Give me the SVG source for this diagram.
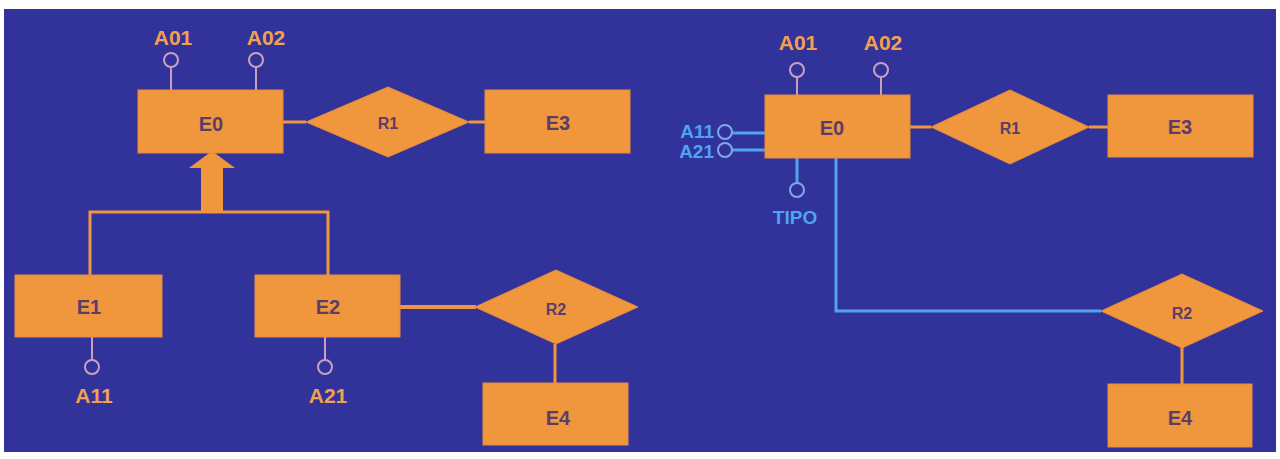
<svg xmlns="http://www.w3.org/2000/svg" width="1280" height="459" viewBox="0 0 1280 459">
<style>
.ent{fill:#f0963c;stroke:#e98a3a;stroke-width:1}
.rel{fill:#f0963c;stroke:#e98a3a;stroke-width:1}
.nt{font-family:"Liberation Sans",Arial,sans-serif;font-weight:bold;font-size:20px;fill:#5a3d6a;text-anchor:middle;dominant-baseline:central}
.rt{font-family:"Liberation Sans",Arial,sans-serif;font-weight:bold;font-size:16px;fill:#5a3d6a;text-anchor:middle;dominant-baseline:central}
.al{font-family:"Liberation Sans",Arial,sans-serif;font-weight:bold;font-size:21px;fill:#f2a050;text-anchor:middle;dominant-baseline:central}
.bl{font-family:"Liberation Sans",Arial,sans-serif;font-weight:bold;font-size:19px;fill:#4ea4f4;dominant-baseline:central}
.ol{stroke:#f0963c;stroke-width:3;fill:none}
.al-l{stroke:#c9a0b8;stroke-width:2;fill:none}
.ac{fill:#32339a;stroke:#c9a0c0;stroke-width:2}
.bc{fill:#32339a;stroke:#7fa8e8;stroke-width:2}
.blue{stroke:#4ea4f4;stroke-width:3;fill:none}
</style>
<rect x="0" y="0" width="1280" height="459" fill="#ffffff"/>
<rect x="4" y="9" width="1272" height="443" fill="#32339a"/>
<g id="connectors">
  <line class="ol" x1="283" y1="122" x2="306" y2="122"/>
  <line class="ol" x1="469" y1="122" x2="486" y2="122"/>
  <polyline class="ol" points="90,276 90,212 328,212 328,276"/>
  <rect x="201" y="166" width="22" height="46" fill="#f0963c"/>
  <polygon points="212,151 235,168 189,168" fill="#f0963c"/>
  <line x1="400" y1="307" x2="476" y2="307" stroke="#f0963c" stroke-width="4"/>
  <line class="ol" x1="555" y1="344" x2="555" y2="384"/>
  <line class="al-l" x1="171" y1="67" x2="171" y2="90"/>
  <line class="al-l" x1="256" y1="67" x2="256" y2="90"/>
  <line class="al-l" x1="92" y1="337" x2="92" y2="360"/>
  <line class="al-l" x1="325" y1="337" x2="325" y2="360"/>
  <line class="ol" x1="910" y1="127" x2="931" y2="127"/>
  <line class="ol" x1="1089" y1="127" x2="1109" y2="127"/>
  <line class="ol" x1="1182" y1="347" x2="1182" y2="385"/>
  <line class="al-l" x1="797" y1="77" x2="797" y2="95"/>
  <line class="al-l" x1="881" y1="77" x2="881" y2="95"/>
  <line class="blue" x1="732" y1="133" x2="765" y2="133"/>
  <line class="blue" x1="732" y1="150" x2="765" y2="150"/>
  <line class="blue" x1="797" y1="158" x2="797" y2="183"/>
  <polyline class="blue" points="836,158 836,311 1101,311"/>
</g>
<g id="L-E0"><rect class="ent" x="138" y="90" width="145" height="63"/><text class="nt" x="211" y="124">E0</text></g>
<g id="L-A01"><circle class="ac" cx="171" cy="60" r="7"/><text class="al" x="173" y="37">A01</text></g>
<g id="L-A02"><circle class="ac" cx="256" cy="60" r="7"/><text class="al" x="266" y="37">A02</text></g>
<g id="L-R1"><polygon class="rel" points="306,122 388,87 469,122 388,157"/><text class="rt" x="388" y="123">R1</text></g>
<g id="L-E3"><rect class="ent" x="485" y="90" width="145" height="63"/><text class="nt" x="558" y="123">E3</text></g>
<g id="L-E1"><rect class="ent" x="15" y="275" width="147" height="62"/><text class="nt" x="89" y="307">E1</text></g>
<g id="L-A11"><circle class="ac" cx="92" cy="367" r="7"/><text class="al" x="94" y="395">A11</text></g>
<g id="L-E2"><rect class="ent" x="255" y="275" width="145" height="62"/><text class="nt" x="328" y="307">E2</text></g>
<g id="L-A21"><circle class="ac" cx="325" cy="367" r="7"/><text class="al" x="328" y="395">A21</text></g>
<g id="L-R2"><polygon class="rel" points="475,307 556,270 638,307 556,344"/><text class="rt" x="556" y="309">R2</text></g>
<g id="L-E4"><rect class="ent" x="483" y="383" width="145" height="62"/><text class="nt" x="558" y="418">E4</text></g>
<g id="R-E0"><rect class="ent" x="765" y="95" width="145" height="63"/><text class="nt" x="832" y="128">E0</text></g>
<g id="R-A01"><circle class="ac" cx="797" cy="70" r="7"/><text class="al" x="798" y="42">A01</text></g>
<g id="R-A02"><circle class="ac" cx="881" cy="70" r="7"/><text class="al" x="883" y="42">A02</text></g>
<g id="R-A11"><circle class="bc" cx="725" cy="132" r="7"/><text class="bl" x="714" y="131" text-anchor="end">A11</text></g>
<g id="R-A21"><circle class="bc" cx="725" cy="150" r="7"/><text class="bl" x="714" y="151" text-anchor="end">A21</text></g>
<g id="R-TIPO"><circle class="bc" cx="797" cy="190" r="7"/><text class="bl" x="795" y="217" text-anchor="middle">TIPO</text></g>
<g id="R-R1"><polygon class="rel" points="931,127 1010,90 1089,127 1010,164"/><text class="rt" x="1010" y="128">R1</text></g>
<g id="R-E3"><rect class="ent" x="1108" y="95" width="145" height="62"/><text class="nt" x="1180" y="127">E3</text></g>
<g id="R-R2"><polygon class="rel" points="1101,311 1182,274 1263,311 1182,348"/><text class="rt" x="1182" y="313">R2</text></g>
<g id="R-E4"><rect class="ent" x="1108" y="384" width="144" height="63"/><text class="nt" x="1180" y="418">E4</text></g>
</svg>
